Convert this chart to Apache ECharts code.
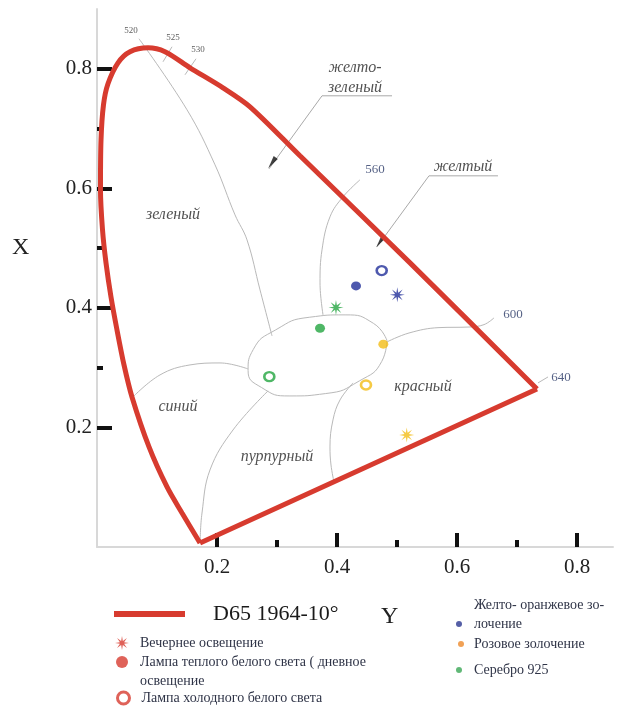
<!DOCTYPE html>
<html>
<head>
<meta charset="utf-8">
<script src="https://cdn.jsdelivr.net/npm/echarts@6/dist/echarts.min.js"></script>
<style>
  html, body { margin: 0; padding: 0; background: #fff; }
  #chart { width: 619px; height: 713px; }
</style>
</head>
<body>
<div id="chart"></div>
<script>
// Axis tick values
const majorTicks = [0.2, 0.4, 0.6, 0.8];
const minorTicks = [0.3, 0.5, 0.7];

// Spectral locus (CIE 1964 10°), from the violet end up over the top to the red end
const locus = [
  [0.1717, 0.0067], [0.1417, 0.0569], [0.1167, 0.1004],
  [0.0867, 0.1674], [0.0583, 0.2510], [0.0450, 0.3046], [0.0333, 0.3632],
  [0.0233, 0.4184], [0.0150, 0.4753], [0.0092, 0.5305], [0.0058, 0.5975],
  [0.0067, 0.6812], [0.0108, 0.7397], [0.0183, 0.7749], [0.0350, 0.8100],
  [0.0550, 0.8285], [0.0850, 0.8351], [0.1133, 0.8285], [0.1550, 0.8017],
  [0.2100, 0.7682], [0.2550, 0.7364], [0.3383, 0.6544], [0.5217, 0.4753],
  [0.7333, 0.2644]
];
// Line of purples
const purpleLine = [[0.7333, 0.2644], [0.1717, 0.0067]];

// White area in the middle
const whiteEllipse = [
  [0.4832, 0.3456], [0.4745, 0.3103], [0.4372, 0.2778], [0.3812, 0.2567],
  [0.3215, 0.2527], [0.2742, 0.2668], [0.2518, 0.2954], [0.2605, 0.3305],
  [0.2978, 0.3632], [0.3538, 0.3843], [0.4135, 0.3883], [0.4608, 0.3741],
  [0.4832, 0.3456]
];

// Colour-region borders
const border520 = [[0.0700, 0.8502], [0.1500, 0.7314], [0.1967, 0.6393], [0.2300, 0.5556],
  [0.2500, 0.5138], [0.2717, 0.4301], [0.2917, 0.3531]];
const border560 = [[0.4383, 0.6142], [0.4100, 0.5858], [0.3883, 0.5523], [0.3750, 0.4971],
  [0.3717, 0.4418], [0.3767, 0.3883]];
const border600 = [[0.4833, 0.3431], [0.5200, 0.3580], [0.5700, 0.3670], [0.6200, 0.3680],
  [0.6450, 0.3720], [0.6617, 0.3833]];
const borderRed = [[0.4267, 0.2745], [0.4050, 0.2460], [0.3933, 0.2126], [0.3883, 0.1674],
  [0.3900, 0.1372], [0.3950, 0.1088]];
const borderPurple = [[0.2850, 0.2611], [0.2267, 0.1958], [0.1883, 0.1289], [0.1750, 0.0569],
  [0.1717, 0.0067]];
const borderBlue = [[0.0600, 0.2510], [0.1050, 0.2879], [0.1550, 0.3046], [0.2050, 0.3079],
  [0.2517, 0.2979]];
const regionBorders = [border520, border560, border600, borderRed, borderPurple, borderBlue];

// Wavelength marks
const tick525 = [[0.1250, 0.8368], [0.1100, 0.8117]];
const tick530 = [[0.1650, 0.8167], [0.1467, 0.7900]];
const tick640 = [[0.7350, 0.2745], [0.7517, 0.2845]];
const wavelengthTicks = [tick525, tick530, tick640];
const smallWavelengths = ['520', '525', '530'];
const smallWavelengthAt = [[0.0567, 0.8636], [0.1267, 0.8519], [0.1683, 0.8318]];
const bigWavelengths = ['560', '600', '640'];
const bigWavelengthAt = [[0.4633, 0.6310], [0.6933, 0.3883], [0.7733, 0.2828]];

// Region names
const regionNames = ['желто-\nзеленый', 'желтый', 'зеленый', 'синий', 'пурпурный', 'красный'];
const regionNameAt = [[0.4300, 0.7849], [0.6100, 0.6360], [0.1267, 0.5556],
  [0.1350, 0.2343], [0.3000, 0.1506], [0.5433, 0.2678]];

// Leaders for the two upper names
const leaderYellowGreen = [[0.4917, 0.7548], [0.3750, 0.7548], [0.2867, 0.6326]];
const leaderYellow = [[0.6683, 0.6209], [0.5533, 0.6209], [0.4667, 0.5021]];
const arrowHeads = [[0.2917, 0.6427], [0.4717, 0.5105]];

// Measured samples: one point per material under each light
const materials = ['Желто- оранжевое зо-\nлочение', 'Розовое золочение', 'Серебро 925'];
const lightNames = ['Вечернее освещение', 'Лампа теплого белого света ( дневное\nосвещение',
  'Лампа холодного белого света'];
const eveningLight = [[0.5005, 0.4218], [0.5162, 0.1874], [0.3983, 0.4005]];
const warmLamp = [[0.4317, 0.4368], [0.4772, 0.3393], [0.3717, 0.3660]];
const coldLamp = [[0.4745, 0.4624], [0.4483, 0.2711], [0.2872, 0.2850]];

const locusName = 'D65 1964-10°';

// ---- styling ----
const serif = "'Liberation Serif','Times New Roman',serif";
const RED = '#d73b2f';
const GRAY = '#b9b9b9';
const pointColors = ['#22309a', '#f3bd17', '#23a540'];
const legendColors = ['#2a3790', '#ee8a2c', '#3aa655'];

function starPath(n, rOut, rIn) {
  let d = '';
  for (let k = 0; k < 2 * n; k++) {
    const a = Math.PI * k / n - Math.PI / 2;
    const r = k % 2 ? rIn : rOut;
    d += (k ? 'L' : 'M') + (r * Math.cos(a)).toFixed(2) + ' ' + (r * Math.sin(a)).toFixed(2) + ' ';
  }
  return 'path://' + d + 'Z';
}
const ASTERISK = starPath(8, 10, 3.2);

function grayLine(data, extra) {
  return Object.assign({
    type: 'line', data: data, symbol: 'none', silent: true, smooth: 0.4,
    lineStyle: { color: GRAY, width: 1 }, z: 2
  }, extra || {});
}

const series = [];
regionBorders.forEach(b => series.push(grayLine(b)));
wavelengthTicks.forEach(t => series.push(grayLine(t, { smooth: false })));
series.push(grayLine(whiteEllipse, { smooth: 0.55 }));
series.push(grayLine(leaderYellowGreen, { smooth: false, lineStyle: { color: '#a9a9a9', width: 1 } }));
series.push(grayLine(leaderYellow, { smooth: false, lineStyle: { color: '#a9a9a9', width: 1 } }));

series.push({
  type: 'scatter', data: arrowHeads, symbol: 'triangle', symbolSize: [5, 13], symbolRotate: 145,
  itemStyle: { color: '#111' }, silent: true, z: 3
});

// Locus
series.push({
  name: locusName, type: 'line', data: locus, symbol: 'none', smooth: 0.3, silent: true,
  lineStyle: { color: RED, width: 5 }, itemStyle: { color: RED }, z: 5
});
series.push({
  name: locusName, type: 'line', data: purpleLine, symbol: 'none', silent: true,
  lineStyle: { color: RED, width: 5 }, itemStyle: { color: RED }, z: 5
});

// Text annotations
function textLayer(names, at, style) {
  return {
    type: 'scatter', silent: true, symbolSize: 1, itemStyle: { color: 'rgba(0,0,0,0)' }, z: 6,
    data: names.map((n, i) => ({ name: n, value: at[i] })),
    label: Object.assign({ show: true, position: 'inside', formatter: p => p.name, fontFamily: serif }, style)
  };
}
series.push(textLayer(regionNames, regionNameAt,
  { fontSize: 16, fontStyle: 'italic', color: '#262626', lineHeight: 20 }));
series.push(textLayer(smallWavelengths, smallWavelengthAt, { fontSize: 9, color: '#333' }));
series.push(textLayer(bigWavelengths, bigWavelengthAt, { fontSize: 13, color: '#2b3a67' }));

// Samples
series.push({
  name: lightNames[0], type: 'scatter', symbol: ASTERISK, symbolSize: 15, z: 8,
  itemStyle: { color: RED },
  data: eveningLight.map((v, i) => ({ value: v, itemStyle: { color: pointColors[i] } }))
});
series.push({
  name: lightNames[1], type: 'scatter', symbol: 'circle', symbolSize: [10, 9], z: 8,
  itemStyle: { color: RED },
  data: warmLamp.map((v, i) => ({ value: v, itemStyle: { color: pointColors[i] } }))
});
series.push({
  name: lightNames[2], type: 'scatter', symbol: 'circle', symbolSize: [10, 9], z: 8,
  itemStyle: { color: '#fff', borderColor: RED, borderWidth: 2.5 },
  data: coldLamp.map((v, i) => ({ value: v, itemStyle: { color: '#fff', borderColor: pointColors[i], borderWidth: 2.5 } }))
});
// Material colour keys
materials.forEach((m, i) => series.push({
  name: m, type: 'scatter', symbol: 'circle', data: [], itemStyle: { color: legendColors[i] }
}));

function legendText(size, padLeft) {
  return { fontFamily: serif, fontSize: size, color: '#2f3447', lineHeight: 19, padding: [0, 0, 0, padLeft] };
}
function oneLegend(name, left, top, w, h, textStyle, extra) {
  return Object.assign({
    data: [name], left: left, top: top, padding: 0, itemWidth: w, itemHeight: h,
    selectedMode: false, textStyle: textStyle
  }, extra || {});
}

const option = {
  animation: false,
  backgroundColor: '#fff',
  grid: { left: 97, top: 9, bottom: 166, right: 6, containLabel: false },
  xAxis: [
    {
      type: 'value', min: 0, max: 0.86,
      axisLine: { lineStyle: { color: '#d8d8d8', width: 2 } },
      axisTick: { inside: true, length: 14, customValues: majorTicks, lineStyle: { color: '#111', width: 4 } },
      axisLabel: { customValues: majorTicks, formatter: v => v.toFixed(1), margin: 10,
        fontFamily: serif, fontSize: 21, color: '#222' },
      splitLine: { show: false }
    },
    {
      type: 'value', min: 0, max: 0.86, position: 'bottom',
      axisLine: { show: false },
      axisTick: { inside: true, length: 7, customValues: minorTicks, lineStyle: { color: '#111', width: 4 } },
      axisLabel: { show: false }, splitLine: { show: false }
    }
  ],
  yAxis: [
    {
      type: 'value', min: 0, max: 0.9,
      axisLine: { lineStyle: { color: '#d8d8d8', width: 2 } },
      axisTick: { inside: true, length: 15, customValues: majorTicks, lineStyle: { color: '#111', width: 4 } },
      axisLabel: { customValues: majorTicks, formatter: v => v.toFixed(1), margin: 5,
        fontFamily: serif, fontSize: 21, color: '#222' },
      splitLine: { show: false }
    },
    {
      type: 'value', min: 0, max: 0.9, position: 'left',
      axisLine: { show: false },
      axisTick: { inside: true, length: 6, customValues: minorTicks, lineStyle: { color: '#111', width: 4 } },
      axisLabel: { show: false }, splitLine: { show: false }
    }
  ],
  legend: [
    oneLegend(locusName, 114, 601, 71, 6,
      { fontFamily: serif, fontSize: 22, color: '#1a1a1a', lineHeight: 26, padding: [0, 0, 0, 23] }, { icon: 'rect' }),
    oneLegend(lightNames[0], 115, 633.5, 14, 14, legendText(14, 6)),
    // the icon sits beside the first line of a two-line caption
    oneLegend(lightNames[1], 116, 633.5, 12, 12, legendText(14, 7), { formatter: n => '\n' + n }),
    oneLegend(lightNames[2], 116, 688.5, 12, 12, legendText(14, 7), { itemStyle: { borderWidth: 3 } }),
    // the dot sits beside the second line of a two-line caption
    oneLegend(materials[0], 456, 595.5, 6, 6, legendText(14, 7), { formatter: n => n + '\n' }),
    oneLegend(materials[1], 458, 634.5, 6, 6, legendText(14, 5)),
    oneLegend(materials[2], 456, 660.5, 6, 6, legendText(14, 7))
  ],
  graphic: [
    { type: 'text', left: 12, top: 236, style: { text: 'X', font: "24px 'Liberation Serif', serif", fill: '#222' } },
    { type: 'text', left: 381, top: 605, style: { text: 'Y', font: "24px 'Liberation Serif', serif", fill: '#222' } }
  ],
  series: series
};

const chart = echarts.init(document.getElementById('chart'), null, { renderer: 'canvas' });
chart.setOption(option);
</script>
</body>
</html>
